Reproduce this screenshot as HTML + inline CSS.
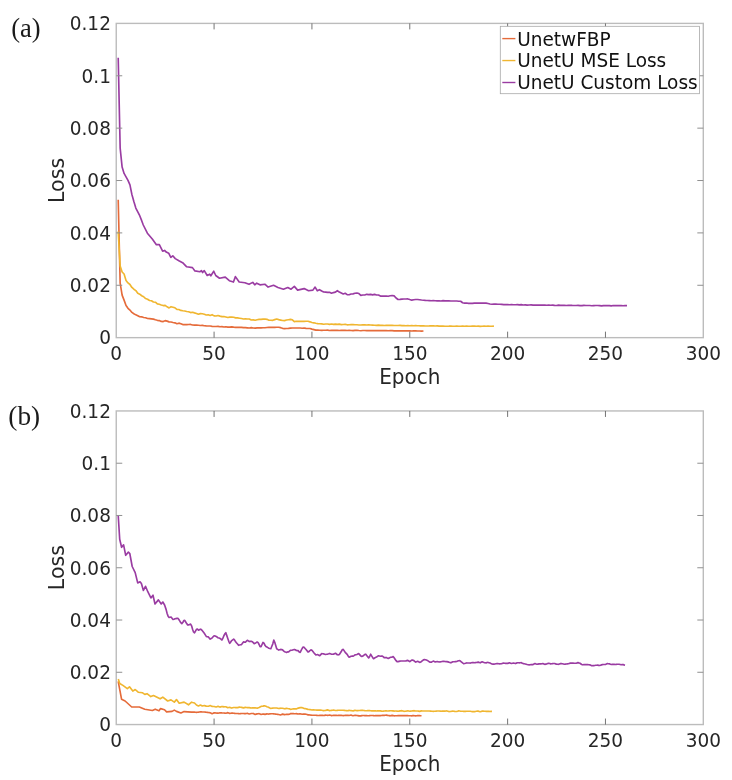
<!DOCTYPE html>
<html lang="en"><head><meta charset="utf-8"><title>Loss curves</title>
<style>html,body{margin:0;padding:0;background:#fff}svg{display:block}</style>
</head><body>
<svg width="732" height="780" viewBox="0 0 732 780" font-family="'DejaVu Sans','Liberation Sans',sans-serif" fill="#262626">
<rect width="732" height="780" fill="#fff"/>
<polyline fill="none" stroke="#E56B3A" stroke-width="1.65" stroke-linejoin="round" stroke-linecap="butt" points="118.21,199.72 120.16,283.04 122.12,295.08 124.08,300.16 126.03,305.50 127.99,308.30 129.95,310.09 131.90,312.41 133.86,313.70 135.82,314.86 137.78,315.76 139.73,316.79 141.69,316.84 143.65,317.52 145.60,317.75 147.56,318.50 149.52,318.62 151.47,318.90 153.43,319.16 155.39,319.79 157.34,320.31 159.30,320.59 161.26,321.42 163.21,321.58 165.17,320.62 167.13,321.12 169.08,321.87 171.04,322.04 173.00,322.51 174.95,322.84 176.91,323.72 178.87,323.17 180.83,323.70 182.78,324.62 184.74,324.46 186.70,324.66 188.65,324.54 190.61,324.43 192.57,325.03 194.52,325.16 196.48,324.99 198.44,325.25 200.39,325.51 202.35,325.44 204.31,325.74 206.26,325.90 208.22,326.00 210.18,326.00 212.13,326.33 214.09,326.49 216.05,326.49 218.01,326.37 219.96,326.76 221.92,326.63 223.88,326.97 225.83,326.71 227.79,327.14 229.75,327.07 231.70,326.94 233.66,327.18 235.62,327.32 237.57,327.44 239.53,327.33 241.49,327.40 243.44,327.67 245.40,327.65 247.36,327.82 249.31,327.95 251.27,327.66 253.23,327.95 255.19,328.08 257.14,327.86 259.10,327.75 261.06,327.89 263.01,327.75 264.97,327.75 266.93,327.51 268.88,327.29 270.84,327.38 272.80,327.28 274.75,327.38 276.71,327.29 278.67,327.23 280.62,327.66 282.58,328.32 284.54,328.60 286.49,328.48 288.45,328.31 290.41,328.08 292.37,327.97 294.32,328.02 296.28,327.98 298.24,327.99 300.19,328.04 302.15,328.24 304.11,328.02 306.06,328.33 308.02,328.47 309.98,328.48 311.93,329.10 313.89,329.63 315.85,330.17 317.80,330.13 319.76,330.24 321.72,330.33 323.67,330.29 325.63,330.21 327.59,330.18 329.54,330.47 331.50,330.34 333.46,330.31 335.42,330.39 337.37,330.38 339.33,330.48 341.29,330.42 343.24,330.43 345.20,330.39 347.16,330.49 349.11,330.38 351.07,330.52 353.03,330.59 354.98,330.37 356.94,330.32 358.90,330.55 360.85,330.71 362.81,330.47 364.77,330.47 366.72,330.61 368.68,330.53 370.64,330.57 372.60,330.59 374.55,330.67 376.51,330.62 378.47,330.68 380.42,330.67 382.38,330.64 384.34,330.68 386.29,330.66 388.25,330.74 390.21,330.68 392.16,330.69 394.12,330.87 396.08,330.79 398.03,330.81 399.99,330.86 401.95,330.82 403.90,330.85 405.86,330.91 407.82,330.92 409.77,330.85 411.73,330.99 413.69,330.93 415.65,330.92 417.60,330.96 419.56,331.02 421.52,331.18 423.47,331.04"/>
<polyline fill="none" stroke="#F0B630" stroke-width="1.65" stroke-linejoin="round" stroke-linecap="butt" points="118.21,231.46 120.16,266.02 122.12,272.03 124.08,274.03 126.03,280.45 127.99,282.93 129.95,284.50 131.90,287.49 133.86,289.22 135.82,290.57 137.78,293.30 139.73,294.21 141.69,295.75 143.65,296.75 145.60,298.56 147.56,299.20 149.52,300.46 151.47,300.70 153.43,301.95 155.39,302.23 157.34,303.90 159.30,304.26 161.26,304.97 163.21,305.58 165.17,305.44 167.13,306.81 169.08,307.91 171.04,306.70 173.00,307.18 174.95,307.81 176.91,309.36 178.87,309.55 180.83,310.43 182.78,310.75 184.74,311.00 186.70,311.49 188.65,311.76 190.61,312.60 192.57,312.24 194.52,312.88 196.48,313.44 198.44,314.29 200.39,313.64 202.35,313.78 204.31,314.20 206.26,314.95 208.22,314.76 210.18,315.49 212.13,314.67 214.09,315.85 216.05,316.02 218.01,315.47 219.96,316.15 221.92,316.66 223.88,316.51 225.83,316.96 227.79,317.54 229.75,317.14 231.70,317.19 233.66,317.26 235.62,317.88 237.57,317.92 239.53,318.21 241.49,318.52 243.44,319.00 245.40,318.84 247.36,318.97 249.31,318.97 251.27,319.99 253.23,319.83 255.19,320.19 257.14,319.74 259.10,319.38 261.06,319.43 263.01,319.18 264.97,318.97 266.93,319.32 268.88,320.23 270.84,320.24 272.80,320.34 274.75,319.64 276.71,319.05 278.67,319.64 280.62,320.09 282.58,320.50 284.54,320.59 286.49,319.99 288.45,319.72 290.41,319.43 292.37,319.79 294.32,321.62 296.28,321.26 298.24,321.40 300.19,321.23 302.15,321.33 304.11,321.38 306.06,321.30 308.02,321.29 309.98,321.83 311.93,322.53 313.89,322.81 315.85,323.28 317.80,323.57 319.76,323.77 321.72,323.84 323.67,324.20 325.63,323.98 327.59,323.96 329.54,324.36 331.50,324.03 333.46,324.37 335.42,324.17 337.37,324.40 339.33,324.15 341.29,324.57 343.24,324.48 345.20,324.43 347.16,324.81 349.11,324.74 351.07,324.69 353.03,324.64 354.98,324.77 356.94,324.80 358.90,324.95 360.85,325.00 362.81,324.86 364.77,324.92 366.72,324.96 368.68,324.90 370.64,325.02 372.60,325.11 374.55,325.24 376.51,325.34 378.47,325.14 380.42,325.32 382.38,325.24 384.34,325.54 386.29,325.34 388.25,325.43 390.21,325.31 392.16,325.35 394.12,325.49 396.08,325.45 398.03,325.55 399.99,325.39 401.95,325.64 403.90,325.51 405.86,325.79 407.82,325.62 409.77,325.78 411.73,325.57 413.69,325.76 415.65,325.67 417.60,325.73 419.56,325.80 421.52,325.80 423.47,325.88 425.43,325.95 427.39,325.96 429.34,325.93 431.30,325.84 433.26,325.92 435.21,325.99 437.17,325.85 439.13,326.12 441.08,326.06 443.04,326.08 445.00,326.20 446.95,326.20 448.91,326.17 450.87,326.09 452.83,326.21 454.78,326.22 456.74,326.12 458.70,326.28 460.65,326.24 462.61,326.04 464.57,326.21 466.52,326.10 468.48,326.29 470.44,326.26 472.39,326.11 474.35,326.13 476.31,326.21 478.26,326.18 480.22,326.32 482.18,326.26 484.13,326.18 486.09,326.24 488.05,326.05 490.01,326.22 491.96,326.27 493.92,326.19"/>
<polyline fill="none" stroke="#9A3CA2" stroke-width="1.65" stroke-linejoin="round" stroke-linecap="butt" points="118.21,57.84 120.16,148.06 122.12,167.10 124.08,173.43 126.03,176.79 127.99,180.45 129.95,184.85 131.90,194.48 133.86,201.57 135.82,208.05 137.78,211.88 139.73,215.71 141.69,220.66 143.28,225.00 147.38,233.20 152.30,238.93 156.39,244.67 159.34,244.67 162.62,251.23 164.59,250.41 166.23,252.05 168.69,253.20 170.82,257.46 172.79,255.82 175.25,258.61 179.34,261.07 182.62,262.70 186.72,266.80 192.46,267.62 194.92,270.90 199.84,271.72 201.48,270.57 202.62,272.54 204.26,270.57 207.21,275.49 209.67,274.18 210.82,275.82 213.77,271.23 215.74,275.49 219.51,278.28 225.25,277.13 229.34,280.74 233.44,282.05 235.41,276.64 239.18,282.05 244.92,282.70 249.02,284.34 252.79,282.38 254.75,284.84 256.72,283.20 260.00,284.84 264.84,284.21 268.11,287.05 273.58,285.30 277.95,287.49 283.42,289.23 287.79,287.49 291.07,289.23 294.34,286.39 297.62,290.11 304.18,288.58 308.55,290.77 312.92,290.11 315.11,287.05 317.30,290.77 319.48,289.67 321.72,290.98 323.67,292.00 325.63,292.07 327.59,292.42 329.54,292.36 331.50,293.25 333.46,292.59 335.42,292.14 337.37,290.71 339.33,292.07 341.29,293.02 343.24,293.93 345.20,293.23 347.16,294.68 349.11,294.79 351.07,294.03 353.03,293.84 354.98,293.25 356.94,293.03 358.90,293.55 360.85,295.40 362.81,295.04 364.77,295.00 366.72,294.32 368.68,294.62 370.64,294.38 372.60,294.83 374.55,294.36 376.51,294.96 378.47,295.03 380.42,296.08 382.38,296.12 384.34,296.05 386.29,296.09 388.25,296.30 390.21,295.77 392.16,295.56 394.12,295.90 396.08,298.01 398.03,299.47 399.99,299.39 401.95,299.18 403.90,298.97 405.86,298.98 407.82,298.94 409.77,299.58 411.73,300.17 413.69,299.71 415.65,299.53 417.60,299.47 419.56,299.76 421.52,300.05 423.47,300.20 425.43,300.43 427.39,300.51 429.34,300.62 431.30,300.77 433.26,300.68 435.21,300.73 437.17,300.85 439.13,300.84 441.08,300.96 443.04,300.59 445.00,300.90 446.95,300.78 448.91,300.86 450.87,300.95 452.83,301.01 454.78,301.04 456.74,301.00 458.70,301.21 460.65,301.27 462.61,302.77 464.57,303.18 466.52,303.04 468.48,303.32 470.44,303.20 472.39,303.32 474.35,303.10 476.31,303.06 478.26,303.12 480.22,303.17 482.18,303.04 484.13,303.14 486.09,303.10 488.05,303.48 490.01,303.95 491.96,304.24 493.92,304.13 495.88,304.16 497.83,304.24 499.79,304.24 501.75,304.42 503.70,304.56 505.66,304.52 507.62,304.62 509.57,304.76 511.53,304.67 513.49,304.71 515.44,304.70 517.40,304.61 519.36,304.88 521.31,304.67 523.27,304.95 525.23,304.92 527.18,305.06 529.14,304.98 531.10,304.93 533.06,305.08 535.01,305.02 536.97,305.09 538.93,305.14 540.88,305.15 542.84,305.17 544.80,305.13 546.75,305.22 548.71,305.04 550.67,305.26 552.62,305.18 554.58,305.43 556.54,305.47 558.49,305.16 560.45,305.39 562.41,305.38 564.36,305.30 566.32,305.48 568.28,305.39 570.24,305.27 572.19,305.44 574.15,305.46 576.11,305.50 578.06,305.37 580.02,305.57 581.98,305.59 583.93,305.41 585.89,305.47 587.85,305.53 589.80,305.49 591.76,305.73 593.72,305.58 595.67,305.46 597.63,305.49 599.59,305.57 601.54,305.81 603.50,305.56 605.46,305.60 607.42,305.64 609.37,305.59 611.33,305.82 613.29,305.54 615.24,305.67 617.20,305.61 619.16,305.66 621.11,305.48 623.07,305.78 625.03,305.59 626.98,305.60"/>
<rect x="116.25" y="23.4" width="587.05" height="314.25" fill="none" stroke="#bcbcbc" stroke-width="1.4"/>
<path d="M214.09,337.65v-6.0M214.09,23.4v6.0M311.93,337.65v-6.0M311.93,23.4v6.0M409.77,337.65v-6.0M409.77,23.4v6.0M507.62,337.65v-6.0M507.62,23.4v6.0M605.46,337.65v-6.0M605.46,23.4v6.0" stroke="#5c5c5c" stroke-width="0.85" fill="none"/>
<path d="M116.25,285.27h6.0M703.3,285.27h-6.0M116.25,232.90h6.0M703.3,232.90h-6.0M116.25,180.52h6.0M703.3,180.52h-6.0M116.25,128.15h6.0M703.3,128.15h-6.0M116.25,75.77h6.0M703.3,75.77h-6.0" stroke="#909090" stroke-width="1" fill="none"/>
<text transform="translate(116.25,360.20) scale(1,1.075)" text-anchor="middle" font-size="18.5">0</text>
<text transform="translate(214.09,360.20) scale(1,1.075)" text-anchor="middle" font-size="18.5">50</text>
<text transform="translate(311.93,360.20) scale(1,1.075)" text-anchor="middle" font-size="18.5">100</text>
<text transform="translate(409.77,360.20) scale(1,1.075)" text-anchor="middle" font-size="18.5">150</text>
<text transform="translate(507.62,360.20) scale(1,1.075)" text-anchor="middle" font-size="18.5">200</text>
<text transform="translate(605.46,360.20) scale(1,1.075)" text-anchor="middle" font-size="18.5">250</text>
<text transform="translate(703.30,360.20) scale(1,1.075)" text-anchor="middle" font-size="18.5">300</text>
<text transform="translate(110.90,344.45) scale(1,1.075)" text-anchor="end" font-size="18.5">0</text>
<text transform="translate(110.90,292.07) scale(1,1.075)" text-anchor="end" font-size="18.5">0.02</text>
<text transform="translate(110.90,239.70) scale(1,1.075)" text-anchor="end" font-size="18.5">0.04</text>
<text transform="translate(110.90,187.32) scale(1,1.075)" text-anchor="end" font-size="18.5">0.06</text>
<text transform="translate(110.90,134.95) scale(1,1.075)" text-anchor="end" font-size="18.5">0.08</text>
<text transform="translate(110.90,82.57) scale(1,1.075)" text-anchor="end" font-size="18.5">0.1</text>
<text transform="translate(110.90,30.20) scale(1,1.075)" text-anchor="end" font-size="18.5">0.12</text>
<text transform="translate(409.80,383.95) scale(1,1.075)" text-anchor="middle" font-size="20.0">Epoch</text>
<text transform="translate(63.60,180.42) rotate(-90) scale(1,1.0)" text-anchor="middle" font-size="20.6">Loss</text>
<rect x="500.3" y="26.3" width="199.2" height="67.4" fill="#fff" stroke="#a8a8a8" stroke-width="0.8"/>
<path d="M502.3,38.60H515.4" stroke="#E56B3A" stroke-width="1.4"/>
<text transform="translate(517.20,45.50) scale(1,1.075)" text-anchor="start" font-size="18.5" fill="#111">UnetwFBP</text>
<path d="M502.3,60.55H515.4" stroke="#F0B630" stroke-width="1.4"/>
<text transform="translate(517.20,67.45) scale(1,1.075)" text-anchor="start" font-size="18.5" fill="#111">UnetU MSE Loss</text>
<path d="M502.3,82.50H515.4" stroke="#9A3CA2" stroke-width="1.4"/>
<text transform="translate(517.20,89.40) scale(1,1.075)" text-anchor="start" font-size="18.5" fill="#111">UnetU Custom Loss</text>
<polyline fill="none" stroke="#E56B3A" stroke-width="1.65" stroke-linejoin="round" stroke-linecap="butt" points="118.20,681.30 121.60,699.30 125.10,701.00 131.70,707.00 139.30,707.00 144.80,709.20 152.40,710.50 155.20,709.20 159.00,710.80 160.60,708.60 164.50,709.70 166.60,711.90 172.10,711.40 174.30,710.10 176.50,711.40 180.90,713.00 184.10,711.60 191.59,712.11 192.57,712.14 193.54,712.16 194.52,712.18 195.50,712.26 196.48,712.34 197.46,712.26 198.44,712.18 199.42,711.96 200.39,711.75 201.37,711.85 202.35,711.95 203.33,712.00 204.31,712.04 205.29,712.16 206.26,712.28 207.24,712.42 208.22,712.55 209.20,712.65 210.18,712.75 211.16,713.20 212.13,713.65 213.11,713.29 214.09,712.87 215.07,712.91 216.05,712.95 217.03,713.07 218.01,713.19 218.98,712.96 219.96,712.73 220.94,712.83 221.92,712.92 222.90,712.98 223.88,713.05 224.85,713.17 225.83,713.29 226.81,712.96 227.79,712.63 228.77,713.07 229.75,713.52 230.72,713.28 231.70,713.04 232.68,713.15 233.66,713.26 234.64,713.39 235.62,713.52 236.60,713.53 237.57,713.53 238.55,713.61 239.53,713.70 240.51,713.60 241.49,713.50 242.47,713.50 243.44,713.50 244.42,713.58 245.40,713.65 246.38,713.50 247.36,713.34 248.34,713.68 249.31,714.02 250.29,713.77 251.27,713.52 252.25,713.49 253.23,713.45 254.21,713.93 255.19,714.42 256.16,714.15 257.14,713.88 258.12,713.76 259.10,713.64 260.08,714.06 261.06,714.48 262.03,714.21 263.01,713.94 263.99,714.14 264.97,714.34 265.95,714.11 266.93,713.88 267.90,713.97 268.88,714.06 269.86,713.90 270.84,713.73 271.82,713.73 272.80,713.72 273.78,713.85 274.75,713.99 275.73,714.12 276.71,714.25 277.69,714.37 278.67,714.50 279.65,714.71 280.62,714.93 281.60,714.52 282.58,714.12 283.56,714.38 284.54,714.65 285.52,714.47 286.49,714.30 287.47,714.37 288.45,714.44 289.43,714.30 290.41,713.58 291.39,713.59 292.37,713.60 293.34,713.69 294.32,713.77 295.30,713.73 296.28,713.69 297.26,713.83 298.24,713.97 299.21,713.90 300.19,713.83 301.17,714.05 302.15,714.27 303.13,714.16 304.11,714.04 305.08,714.13 306.06,714.29 307.04,714.56 308.02,714.83 309.00,714.92 309.98,715.02 310.95,715.12 311.93,715.22 312.91,715.23 313.89,715.23 314.87,715.23 315.85,715.23 316.83,715.36 317.80,715.49 318.78,715.46 319.76,715.44 320.74,715.40 321.72,715.36 322.70,715.41 323.67,715.45 324.65,715.32 325.63,715.19 326.61,715.30 327.59,715.41 328.57,715.22 329.54,715.03 330.52,715.31 331.50,715.59 332.48,715.47 333.46,715.35 334.44,715.37 335.42,715.38 336.39,715.42 337.37,715.47 338.35,715.41 339.33,715.36 340.31,715.34 341.29,715.32 342.26,715.46 343.24,715.61 344.22,715.51 345.20,715.41 346.18,715.32 347.16,715.22 348.13,715.35 349.11,715.49 350.09,715.29 351.07,715.09 352.05,715.41 353.03,715.73 354.01,715.56 354.98,715.40 355.96,715.42 356.94,715.45 357.92,715.65 358.90,715.86 359.88,715.86 360.85,715.85 361.83,715.67 362.81,715.49 363.79,715.54 364.77,715.59 365.75,715.63 366.72,715.68 367.70,715.74 368.68,715.79 369.66,715.63 370.64,715.48 371.62,715.51 372.60,715.53 373.57,715.63 374.55,715.73 375.53,715.65 376.51,715.57 377.49,715.62 378.47,715.67 379.44,715.66 380.42,715.65 381.40,715.50 382.38,715.36 383.36,715.39 384.34,715.42 385.31,715.27 386.29,715.12 387.27,715.33 388.25,715.54 389.23,715.68 390.21,715.81 391.19,715.61 392.16,715.41 393.14,715.61 394.12,715.81 395.10,715.80 396.08,715.78 397.06,715.70 398.03,715.62 399.01,715.62 399.99,715.63 400.97,715.64 401.95,715.66 402.93,715.58 403.90,715.51 404.88,715.56 405.86,715.61 406.84,715.64 407.82,715.66 408.80,715.72 409.77,715.78 410.75,715.79 411.73,715.81 412.71,715.69 413.69,715.58 414.67,715.71 415.65,715.83 416.62,715.71 417.60,715.59 418.58,715.64 419.56,715.69 420.54,715.74 421.52,715.79"/>
<polyline fill="none" stroke="#F0B630" stroke-width="1.65" stroke-linejoin="round" stroke-linecap="butt" points="118.30,679.10 119.70,683.50 122.90,685.40 127.30,688.60 129.50,686.80 132.80,691.10 135.20,689.50 138.20,692.20 142.60,692.80 144.80,694.40 147.00,693.70 150.80,696.60 153.50,695.50 160.10,698.80 162.80,697.20 167.70,701.00 171.00,699.90 174.30,702.10 176.50,699.60 179.20,703.20 184.10,702.10 188.50,704.80 191.59,702.17 192.57,702.51 193.54,702.76 194.52,703.01 195.50,704.02 196.48,705.04 197.46,705.48 198.44,705.92 199.42,705.46 200.39,704.96 201.37,705.48 202.35,706.01 203.33,705.79 204.31,705.57 205.29,705.86 206.26,706.14 207.24,706.20 208.22,706.26 209.20,705.93 210.18,705.59 211.16,705.99 212.13,706.39 213.11,706.45 214.09,706.49 215.07,706.75 216.05,707.02 217.03,706.66 218.01,706.30 218.98,706.70 219.96,707.09 220.94,706.79 221.92,706.50 222.90,706.68 223.88,706.86 224.85,706.80 225.83,706.75 226.81,707.20 227.79,707.64 228.77,707.51 229.75,707.37 230.72,707.71 231.70,708.05 232.68,707.76 233.66,707.47 234.64,707.53 235.62,707.58 236.60,707.60 237.57,707.61 238.55,707.39 239.53,707.17 240.51,707.28 241.49,707.39 242.47,707.64 243.44,707.90 244.42,707.66 245.40,707.41 246.38,707.55 247.36,707.68 248.34,707.68 249.31,707.69 250.29,707.83 251.27,707.97 252.25,707.85 253.23,707.74 254.21,707.81 255.19,707.88 256.16,707.98 257.14,708.08 258.12,707.84 259.10,707.43 260.08,706.90 261.06,706.36 262.03,706.23 263.01,706.10 263.99,705.83 264.97,705.90 265.95,706.30 266.93,706.71 267.90,707.09 268.88,707.47 269.86,708.00 270.84,708.36 271.82,708.21 272.80,708.06 273.78,708.01 274.75,707.97 275.73,707.98 276.71,708.00 277.69,708.26 278.67,708.52 279.65,708.35 280.62,708.19 281.60,708.20 282.58,708.21 283.56,708.50 284.54,708.80 285.52,708.59 286.49,708.39 287.47,708.55 288.45,708.70 289.43,708.78 290.41,709.44 291.39,709.23 292.37,709.03 293.34,708.93 294.32,708.84 295.30,708.87 296.28,708.90 297.26,708.52 298.24,708.13 299.21,707.89 300.19,707.65 301.17,707.52 302.15,707.65 303.13,708.05 304.11,708.45 305.08,708.63 306.06,708.81 307.04,709.08 308.02,709.35 309.00,709.46 309.98,709.56 310.95,709.76 311.93,709.95 312.91,709.94 313.89,709.92 314.87,709.96 315.85,709.99 316.83,710.08 317.80,710.18 318.78,710.12 319.76,710.07 320.74,710.14 321.72,710.21 322.70,710.43 323.67,710.65 324.65,710.49 325.63,710.34 326.61,710.11 327.59,709.88 328.57,710.28 329.54,710.67 330.52,710.52 331.50,710.37 332.48,710.23 333.46,710.10 334.44,710.32 335.42,710.54 336.39,710.45 337.37,710.36 338.35,710.30 339.33,710.24 340.31,710.25 341.29,710.26 342.26,710.23 343.24,710.20 344.22,710.33 345.20,710.45 346.18,710.58 347.16,710.70 348.13,710.56 349.11,710.42 350.09,710.51 351.07,710.60 352.05,710.76 353.03,710.93 354.01,710.61 354.98,710.29 355.96,710.46 356.94,710.63 357.92,710.58 358.90,710.53 359.88,710.46 360.85,710.40 361.83,710.41 362.81,710.43 363.79,710.54 364.77,710.66 365.75,710.71 366.72,710.77 367.70,710.68 368.68,710.60 369.66,710.67 370.64,710.74 371.62,710.82 372.60,710.89 373.57,710.86 374.55,710.83 375.53,710.90 376.51,710.96 377.49,710.93 378.47,710.90 379.44,710.91 380.42,710.92 381.40,711.06 382.38,711.20 383.36,711.08 384.34,710.97 385.31,710.93 386.29,710.88 387.27,710.95 388.25,711.01 389.23,710.86 390.21,710.71 391.19,710.77 392.16,710.83 393.14,710.94 394.12,711.06 395.10,711.05 396.08,711.04 397.06,711.13 398.03,711.22 399.01,711.08 399.99,710.94 400.97,710.81 401.95,710.68 402.93,711.00 403.90,711.33 404.88,711.26 405.86,711.18 406.84,710.99 407.82,710.79 408.80,711.02 409.77,711.26 410.75,711.14 411.73,711.02 412.71,710.85 413.69,710.69 414.67,710.83 415.65,710.96 416.62,710.96 417.60,710.96 418.58,711.15 419.56,711.35 420.54,711.14 421.52,710.93 422.49,710.98 423.47,711.04 424.45,711.04 425.43,711.05 426.41,711.04 427.39,711.04 428.36,711.00 429.34,710.96 430.32,711.06 431.30,711.17 432.28,711.25 433.26,711.33 434.24,711.30 435.21,711.26 436.19,711.13 437.17,711.00 438.15,710.99 439.13,710.98 440.11,711.09 441.08,711.21 442.06,711.14 443.04,711.08 444.02,711.09 445.00,711.10 445.98,711.02 446.95,710.93 447.93,711.25 448.91,711.57 449.89,711.49 450.87,711.41 451.85,711.25 452.83,711.09 453.80,711.26 454.78,711.43 455.76,711.47 456.74,711.51 457.72,711.20 458.70,710.89 459.67,711.05 460.65,711.21 461.63,711.22 462.61,711.24 463.59,711.32 464.57,711.41 465.54,711.35 466.52,711.28 467.50,711.27 468.48,711.26 469.46,711.28 470.44,711.29 471.42,711.45 472.39,711.61 473.37,711.64 474.35,711.66 475.33,711.44 476.31,711.22 477.29,711.18 478.26,711.15 479.24,711.45 480.22,711.75 481.20,711.44 482.18,711.14 483.16,711.18 484.13,711.21 485.11,711.26 486.09,711.31 487.07,711.35 488.05,711.38 489.03,711.43 490.01,711.47 490.98,711.42 491.96,711.37"/>
<polyline fill="none" stroke="#9A3CA2" stroke-width="1.65" stroke-linejoin="round" stroke-linecap="butt" points="118.20,515.22 119.70,539.20 121.60,547.30 123.60,544.90 125.70,555.30 128.40,552.10 129.80,553.50 132.20,566.50 135.20,572.60 137.70,582.90 140.00,581.80 141.40,583.60 143.40,590.40 145.50,586.30 147.80,591.70 150.90,597.90 153.00,595.20 155.00,604.00 158.40,599.90 161.20,604.00 162.80,602.00 164.60,605.00 166.15,609.62 167.13,613.42 168.11,616.15 169.08,617.40 170.06,617.22 171.04,617.03 172.02,618.27 173.00,619.50 173.98,619.23 174.95,618.75 175.93,618.58 176.91,618.42 177.89,618.28 178.87,619.54 179.85,621.13 180.83,622.72 181.80,623.59 182.78,622.55 183.76,620.54 184.74,620.38 185.72,621.98 186.70,623.57 187.67,625.02 188.65,624.91 189.63,624.51 190.61,624.10 191.59,625.82 192.57,629.26 193.54,631.97 194.52,632.79 195.50,631.06 196.48,629.32 197.46,629.05 198.44,630.21 199.42,629.68 200.39,629.14 201.37,629.61 202.35,630.71 203.33,631.98 204.31,633.25 205.29,634.83 206.26,636.41 207.24,636.78 208.22,636.89 209.20,637.99 210.18,639.09 211.16,638.56 212.13,637.85 213.11,636.79 214.09,635.73 215.07,636.06 216.05,636.39 217.03,636.99 218.01,637.80 218.98,638.08 219.96,638.36 220.94,639.18 221.92,639.99 222.90,638.15 223.88,635.75 224.85,633.87 225.83,632.73 226.81,635.61 227.79,638.49 228.77,641.32 229.75,643.30 230.72,641.94 231.70,640.59 232.68,639.87 233.66,639.15 234.64,640.15 235.62,641.81 236.60,642.95 237.57,644.09 238.55,645.30 239.53,644.99 240.51,644.81 241.49,644.63 242.47,643.27 243.44,641.92 244.42,642.10 245.40,642.28 246.38,641.20 247.36,640.25 248.34,640.90 249.31,641.55 250.29,641.38 251.27,641.21 252.25,641.68 253.23,642.61 254.21,643.62 255.19,643.31 256.16,642.65 257.14,641.99 258.12,642.66 259.10,644.51 260.08,646.62 261.06,646.57 262.03,644.50 263.01,642.43 263.99,643.11 264.97,645.31 265.95,646.60 266.93,647.09 267.90,647.64 268.88,648.18 269.86,648.49 270.84,648.70 271.82,646.26 272.80,643.82 273.78,640.12 274.75,642.24 275.73,645.50 276.71,648.75 277.69,649.43 278.67,650.09 279.65,649.75 280.62,649.41 281.60,649.58 282.58,649.90 283.56,650.83 284.54,651.76 285.52,652.08 286.49,652.41 287.47,651.93 288.45,651.98 289.43,651.21 290.41,650.37 291.39,650.22 292.37,650.07 293.34,649.75 294.32,649.42 295.30,649.70 296.28,650.49 297.26,650.58 298.24,650.68 299.21,652.06 300.19,652.37 301.17,650.44 302.15,648.50 303.13,647.03 304.11,647.30 305.08,648.43 306.06,649.56 307.04,650.84 308.02,652.12 309.00,651.58 309.98,650.55 310.95,649.85 311.93,650.17 312.91,651.45 313.89,652.73 314.87,653.95 315.85,654.92 316.83,654.77 317.80,654.62 318.78,655.15 319.76,655.69 320.74,654.65 321.72,653.61 322.70,653.73 323.67,653.86 324.65,654.18 325.63,654.49 326.61,654.30 327.59,654.11 328.57,653.79 329.54,653.44 330.52,653.84 331.50,654.23 332.48,654.20 333.46,654.16 334.44,653.69 335.42,653.22 336.39,653.99 337.37,654.77 338.35,654.82 339.33,654.43 340.31,652.98 341.29,651.53 342.26,649.67 343.24,649.34 344.22,650.83 345.20,652.32 346.18,653.34 347.16,654.37 348.13,656.02 349.11,657.23 350.09,656.72 351.07,656.22 352.05,656.19 353.03,656.15 354.01,655.62 354.98,654.90 355.96,654.69 356.94,654.47 357.92,653.89 358.90,653.66 359.88,654.87 360.85,656.07 361.83,656.52 362.81,656.11 363.79,655.28 364.77,654.45 365.75,654.18 366.72,655.44 367.70,656.69 368.68,657.93 369.66,656.47 370.64,654.21 371.62,655.81 372.60,657.42 373.57,658.70 374.55,658.04 375.53,657.57 376.51,657.10 377.49,656.38 378.47,655.77 379.44,655.99 380.42,656.22 381.40,656.16 382.38,656.10 383.36,656.92 384.34,657.75 385.31,657.64 386.29,657.53 387.27,657.99 388.25,658.41 389.23,657.90 390.21,657.38 391.19,657.25 392.16,657.11 393.14,656.59 394.12,657.78 395.10,659.23 396.08,660.68 397.06,661.69 398.03,661.60 399.01,661.34 399.99,661.08 400.97,661.04 401.95,660.99 402.93,661.01 403.90,661.03 404.88,660.96 405.86,660.89 406.84,660.63 407.82,660.37 408.80,661.00 409.77,661.63 410.75,660.85 411.73,660.07 412.71,660.14 413.69,660.49 414.67,661.29 415.65,662.10 416.62,661.68 417.60,661.26 418.58,661.78 419.56,662.31 420.54,662.17 421.52,661.49 422.49,660.66 423.47,659.83 424.45,659.58 425.43,659.72 426.41,660.08 427.39,660.45 428.36,661.16 429.34,661.87 430.32,662.19 431.30,662.23 432.28,661.66 433.26,661.09 434.24,661.51 435.21,661.93 436.19,661.72 437.17,661.50 438.15,661.77 439.13,662.03 440.11,661.85 441.08,661.71 442.06,661.51 443.04,661.32 444.02,661.39 445.00,661.47 445.98,661.56 446.95,661.65 447.93,661.91 448.91,662.17 449.89,662.50 450.87,662.84 451.85,662.31 452.83,661.78 453.80,661.73 454.78,661.69 455.76,661.59 456.74,661.46 457.72,661.08 458.70,660.71 459.67,660.59 460.65,661.28 461.63,662.12 462.61,662.96 463.59,663.70 464.57,663.50 465.54,663.21 466.52,662.93 467.50,662.98 468.48,663.04 469.46,663.05 470.44,663.06 471.42,662.77 472.39,662.48 473.37,662.63 474.35,662.77 475.33,662.63 476.31,662.52 477.29,662.32 478.26,662.11 479.24,662.47 480.22,662.82 481.20,662.28 482.18,661.74 483.16,662.17 484.13,662.61 485.11,662.73 486.09,662.86 487.07,662.52 488.05,662.42 489.03,662.74 490.01,663.06 490.98,663.55 491.96,663.99 492.94,664.07 493.92,664.14 494.90,663.94 495.88,663.74 496.85,663.69 497.83,663.64 498.81,663.75 499.79,663.86 500.77,663.72 501.75,663.59 502.72,663.30 503.70,663.02 504.68,663.19 505.66,663.36 506.64,663.38 507.62,663.40 508.60,663.11 509.57,662.82 510.55,663.16 511.53,663.49 512.51,663.26 513.49,663.04 514.47,663.30 515.44,663.55 516.42,663.13 517.40,662.71 518.38,662.80 519.36,662.89 520.34,662.78 521.31,662.67 522.29,663.14 523.27,663.62 524.25,663.73 525.23,663.98 526.21,664.25 527.18,664.53 528.16,664.78 529.14,664.90 530.12,664.76 531.10,664.63 532.08,664.60 533.06,664.57 534.03,664.08 535.01,663.59 535.99,663.92 536.97,664.25 537.95,664.07 538.93,663.90 539.90,663.90 540.88,663.90 541.86,663.71 542.84,663.52 543.82,663.94 544.80,664.36 545.77,664.13 546.75,663.89 547.73,663.58 548.71,663.26 549.69,663.58 550.67,663.90 551.65,663.77 552.62,663.63 553.60,663.51 554.58,663.53 555.56,663.86 556.54,664.18 557.52,664.29 558.49,664.32 559.47,663.96 560.45,663.61 561.43,663.66 562.41,663.71 563.39,663.97 564.36,664.23 565.34,664.12 566.32,664.00 567.30,663.90 568.28,663.80 569.26,663.47 570.24,663.13 571.21,663.14 572.19,663.16 573.17,663.18 574.15,663.21 575.13,663.23 576.11,663.25 577.08,662.91 578.06,662.65 579.04,662.95 580.02,663.26 581.00,663.98 581.98,664.69 582.95,664.80 583.93,664.69 584.91,664.67 585.89,664.66 586.87,664.67 587.85,664.67 588.83,664.75 589.80,664.83 590.78,665.28 591.76,665.72 592.74,665.68 593.72,665.64 594.70,665.47 595.67,665.30 596.65,665.23 597.63,665.12 598.61,665.32 599.59,665.51 600.57,665.20 601.54,664.89 602.52,664.56 603.50,664.52 604.48,664.49 605.46,664.45 606.44,664.02 607.42,663.59 608.39,663.71 609.37,663.84 610.35,664.17 611.33,664.50 612.31,664.39 613.29,664.27 614.26,664.38 615.24,664.50 616.22,664.39 617.20,664.29 618.18,664.29 619.16,664.29 620.13,664.52 621.11,664.74 622.09,664.61 623.07,664.64 624.05,664.91 625.03,665.08"/>
<rect x="116.25" y="410.95" width="587.05" height="313.60" fill="none" stroke="#bcbcbc" stroke-width="1.4"/>
<path d="M214.09,724.55v-6.0M214.09,410.95v6.0M311.93,724.55v-6.0M311.93,410.95v6.0M409.77,724.55v-6.0M409.77,410.95v6.0M507.62,724.55v-6.0M507.62,410.95v6.0M605.46,724.55v-6.0M605.46,410.95v6.0" stroke="#5c5c5c" stroke-width="0.85" fill="none"/>
<path d="M116.25,672.28h6.0M703.3,672.28h-6.0M116.25,620.02h6.0M703.3,620.02h-6.0M116.25,567.75h6.0M703.3,567.75h-6.0M116.25,515.48h6.0M703.3,515.48h-6.0M116.25,463.22h6.0M703.3,463.22h-6.0" stroke="#909090" stroke-width="1" fill="none"/>
<text transform="translate(116.25,747.10) scale(1,1.075)" text-anchor="middle" font-size="18.5">0</text>
<text transform="translate(214.09,747.10) scale(1,1.075)" text-anchor="middle" font-size="18.5">50</text>
<text transform="translate(311.93,747.10) scale(1,1.075)" text-anchor="middle" font-size="18.5">100</text>
<text transform="translate(409.77,747.10) scale(1,1.075)" text-anchor="middle" font-size="18.5">150</text>
<text transform="translate(507.62,747.10) scale(1,1.075)" text-anchor="middle" font-size="18.5">200</text>
<text transform="translate(605.46,747.10) scale(1,1.075)" text-anchor="middle" font-size="18.5">250</text>
<text transform="translate(703.30,747.10) scale(1,1.075)" text-anchor="middle" font-size="18.5">300</text>
<text transform="translate(110.90,731.35) scale(1,1.075)" text-anchor="end" font-size="18.5">0</text>
<text transform="translate(110.90,679.08) scale(1,1.075)" text-anchor="end" font-size="18.5">0.02</text>
<text transform="translate(110.90,626.82) scale(1,1.075)" text-anchor="end" font-size="18.5">0.04</text>
<text transform="translate(110.90,574.55) scale(1,1.075)" text-anchor="end" font-size="18.5">0.06</text>
<text transform="translate(110.90,522.28) scale(1,1.075)" text-anchor="end" font-size="18.5">0.08</text>
<text transform="translate(110.90,470.02) scale(1,1.075)" text-anchor="end" font-size="18.5">0.1</text>
<text transform="translate(110.90,417.75) scale(1,1.075)" text-anchor="end" font-size="18.5">0.12</text>
<text transform="translate(409.80,770.85) scale(1,1.075)" text-anchor="middle" font-size="20.0">Epoch</text>
<text transform="translate(63.60,567.65) rotate(-90) scale(1,1.0)" text-anchor="middle" font-size="20.6">Loss</text>
<g font-family="'Liberation Serif','DejaVu Serif',serif" font-size="26.5" fill="#1a1a1a">
<text transform="translate(11.2,36.6) scale(1.0,1)">(a)</text>
<text transform="translate(8.3,424.5) scale(1.03,1)">(b)</text>
</g>
</svg>
</body></html>
